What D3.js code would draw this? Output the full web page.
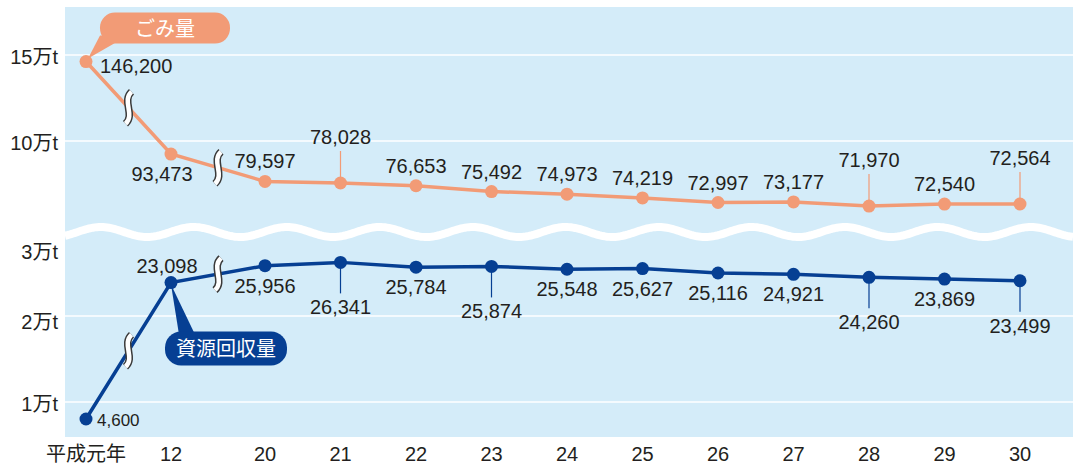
<!DOCTYPE html>
<meta charset="utf-8">
<script src="https://d3js.org/d3.v7.min.js"></script>
<style>
  body { margin: 0; background: #fff; }
  text { font-family: "Liberation Sans", Arial, "Noto Sans CJK JP", sans-serif; fill: #231f20; }
</style>
<div id="my_dataviz"></div>
<script>

// data
var years = [1, 12, 20, 21, 22, 23, 24, 25, 26, 27, 28, 29, 30];
var yearLabels = ["平成元年", "12", "20", "21", "22", "23", "24", "25", "26", "27", "28", "29", "30"];
var garbage = [146200, 93473, 79597, 78028, 76653, 75492, 74973, 74219, 72997, 73177, 71970, 72540, 72564];
var recovered = [4600, 23098, 25956, 26341, 25784, 25874, 25548, 25627, 25116, 24921, 24260, 23869, 23499];
var upperTicks = [100000, 150000];
var upperTickLabels = ["10万t", "15万t"];
var lowerTicks = [10000, 20000, 30000];
var lowerTickLabels = ["1万t", "2万t", "3万t"];

// where each value label sits
var garbagePlace = ["right", "lowleft", "above", "lead", "above", "above", "above", "above", "above", "above", "lead", "above", "lead"];
var recoveredPlace = ["right", "above", "below", "lead", "below", "lead", "below", "below", "below", "below", "lead", "below", "lead"];

var W = 1073, H = 467;
var orange = "#f29b76", blue = "#063f93", bg = "#d4ecf9";

var svg = d3.select("#my_dataviz").append("svg")
  .attr("width", W).attr("height", H);

// x scale, squeezed before 20
var x = d3.scaleLinear().domain([1, 12, 20, 30]).range([86, 171, 265, 1020]);

// broken y scales (two panels, stretched near the recent values)
var yUp = d3.scaleLinear()
  .domain([70000, 74000, 77000, 80000, 100000, 150000])
  .range([213, 199, 184, 181, 141, 55]);
var yLow = d3.scaleLinear()
  .domain([4600, 10000, 20000, 23000, 25000, 26500, 30000])
  .range([419, 402, 316, 283, 274, 261, 250]);

// panel
svg.append("rect").attr("x", 65).attr("y", 7).attr("width", W - 65).attr("height", 430).attr("fill", bg);

// grid lines (3万 sits under the wave, no line)
svg.selectAll(".gu").data(upperTicks).enter().append("line")
  .attr("x1", 65).attr("x2", W)
  .attr("y1", d => yUp(d)).attr("y2", d => yUp(d))
  .attr("stroke", "#fff").attr("stroke-width", 1.5);
svg.selectAll(".gl").data(lowerTicks.slice(0, 2)).enter().append("line")
  .attr("x1", 65).attr("x2", W)
  .attr("y1", d => yLow(d)).attr("y2", d => yLow(d))
  .attr("stroke", "#fff").attr("stroke-width", 1.5);

// wave separating the panels
var wavePts = d3.range(65, W + 1, 2).map(function(px) {
  return [px, 232 + 5 * Math.sin((px - 124) / 93 * 2 * Math.PI)];
});
svg.append("path").attr("d", d3.line()(wavePts))
  .attr("fill", "none").attr("stroke", "#fff").attr("stroke-width", 8);

// y labels
svg.selectAll(".yu").data(upperTicks).enter().append("text")
  .attr("x", 58).attr("y", d => yUp(d) + 9)
  .attr("text-anchor", "end").style("font-size", "20px")
  .text((d, i) => upperTickLabels[i]);
svg.selectAll(".yl").data(lowerTicks).enter().append("text")
  .attr("x", 58).attr("y", d => yLow(d) + (d == 20000 ? 13 : 9))
  .attr("text-anchor", "end").style("font-size", "20px")
  .text((d, i) => lowerTickLabels[i]);

// x labels
svg.selectAll(".xl").data(years).enter().append("text")
  .attr("x", d => x(d)).attr("y", 461)
  .attr("text-anchor", "middle").style("font-size", "20px")
  .text((d, i) => yearLabels[i]);

var fmt = d3.format(",");

function drawSeries(values, y, color, place, up) {
  var g = svg.append("g");
  var line = d3.line().x((d, i) => x(years[i])).y(d => y(d));
  g.append("path").datum(values).attr("d", line)
    .attr("fill", "none").attr("stroke", color).attr("stroke-width", 3.5);

  // break marks on the first two segments
  [0, 1].forEach(function(i) {
    var mx = (x(years[i]) + x(years[i + 1])) / 2;
    var my = (y(values[i]) + y(values[i + 1])) / 2;
    var p = "M3,-16 C-7,-7 7,7 -3,16";
    g.append("path").attr("d", p).attr("transform", "translate(" + mx + "," + my + ")")
      .attr("fill", "none").attr("stroke", "#3a3a3a").attr("stroke-width", 7.5);
    g.append("path").attr("d", p).attr("transform", "translate(" + mx + "," + my + ")")
      .attr("fill", "none").attr("stroke", "#fff").attr("stroke-width", 4.5);
  });

  // leader lines
  values.forEach(function(v, i) {
    if (place[i] != "lead") return;
    var px = x(years[i]), py = y(v);
    g.append("line").attr("x1", px).attr("x2", px)
      .attr("y1", py).attr("y2", up ? py - 32 : py + 31)
      .attr("stroke", color).attr("stroke-width", 1.2);
  });

  g.selectAll("circle").data(values).enter().append("circle")
    .attr("cx", (d, i) => x(years[i])).attr("cy", d => y(d))
    .attr("r", 6.5).attr("fill", color);

  g.selectAll("text").data(values).enter().append("text")
    .style("font-size", (d, i) => place[i] == "right" && !up ? "17px" : "20px")
    .attr("text-anchor", (d, i) => place[i] == "right" ? "start" : "middle")
    .attr("x", function(d, i) {
      var px = x(years[i]);
      if (place[i] == "right") return px + (up ? 14 : 11);
      if (place[i] == "lowleft") return px - 9;
      if (place[i] == "above" && !up) return px - 4;
      return px;
    })
    .attr("y", function(d, i) {
      var py = y(d), pl = place[i];
      if (pl == "right") return py + (up ? 11 : 7);
      if (pl == "lowleft") return py + 27;
      if (pl == "above") return py - (up ? 13 : 10);
      if (pl == "below") return py + 27;
      return up ? py - 39 : py + 52;
    })
    .text(d => fmt(d));
}

drawSeries(garbage, yUp, orange, garbagePlace, true);
drawSeries(recovered, yLow, blue, recoveredPlace, false);

// callouts naming the series
var gx = x(years[0]), gy = yUp(garbage[0]);
svg.append("path")
  .attr("d", "M" + (gx + 2) + "," + (gy - 3) + " L" + (gx + 14) + "," + (gy - 26) + " L" + (gx + 42) + "," + (gy - 26) + "Z")
  .attr("fill", orange);
svg.append("rect").attr("x", gx + 14).attr("y", gy - 49).attr("width", 130).attr("height", 31)
  .attr("rx", 15).attr("fill", orange);
svg.append("text").attr("x", gx + 79).attr("y", gy - 26).attr("text-anchor", "middle")
  .style("font-size", "20px").style("fill", "#fff").text("ごみ量");

var rx0 = x(years[1]), ry0 = yLow(recovered[1]);
svg.append("path")
  .attr("d", "M" + rx0 + "," + (ry0 + 2) + " L" + (rx0 + 8) + "," + (ry0 + 52) + " L" + (rx0 + 24) + "," + (ry0 + 52) + "Z")
  .attr("fill", blue);
svg.append("rect").attr("x", rx0 - 6).attr("y", ry0 + 49).attr("width", 122).attr("height", 34)
  .attr("rx", 16).attr("fill", blue);
svg.append("text").attr("x", rx0 + 55).attr("y", ry0 + 73).attr("text-anchor", "middle")
  .style("font-size", "20px").style("fill", "#fff").text("資源回収量");

</script>
